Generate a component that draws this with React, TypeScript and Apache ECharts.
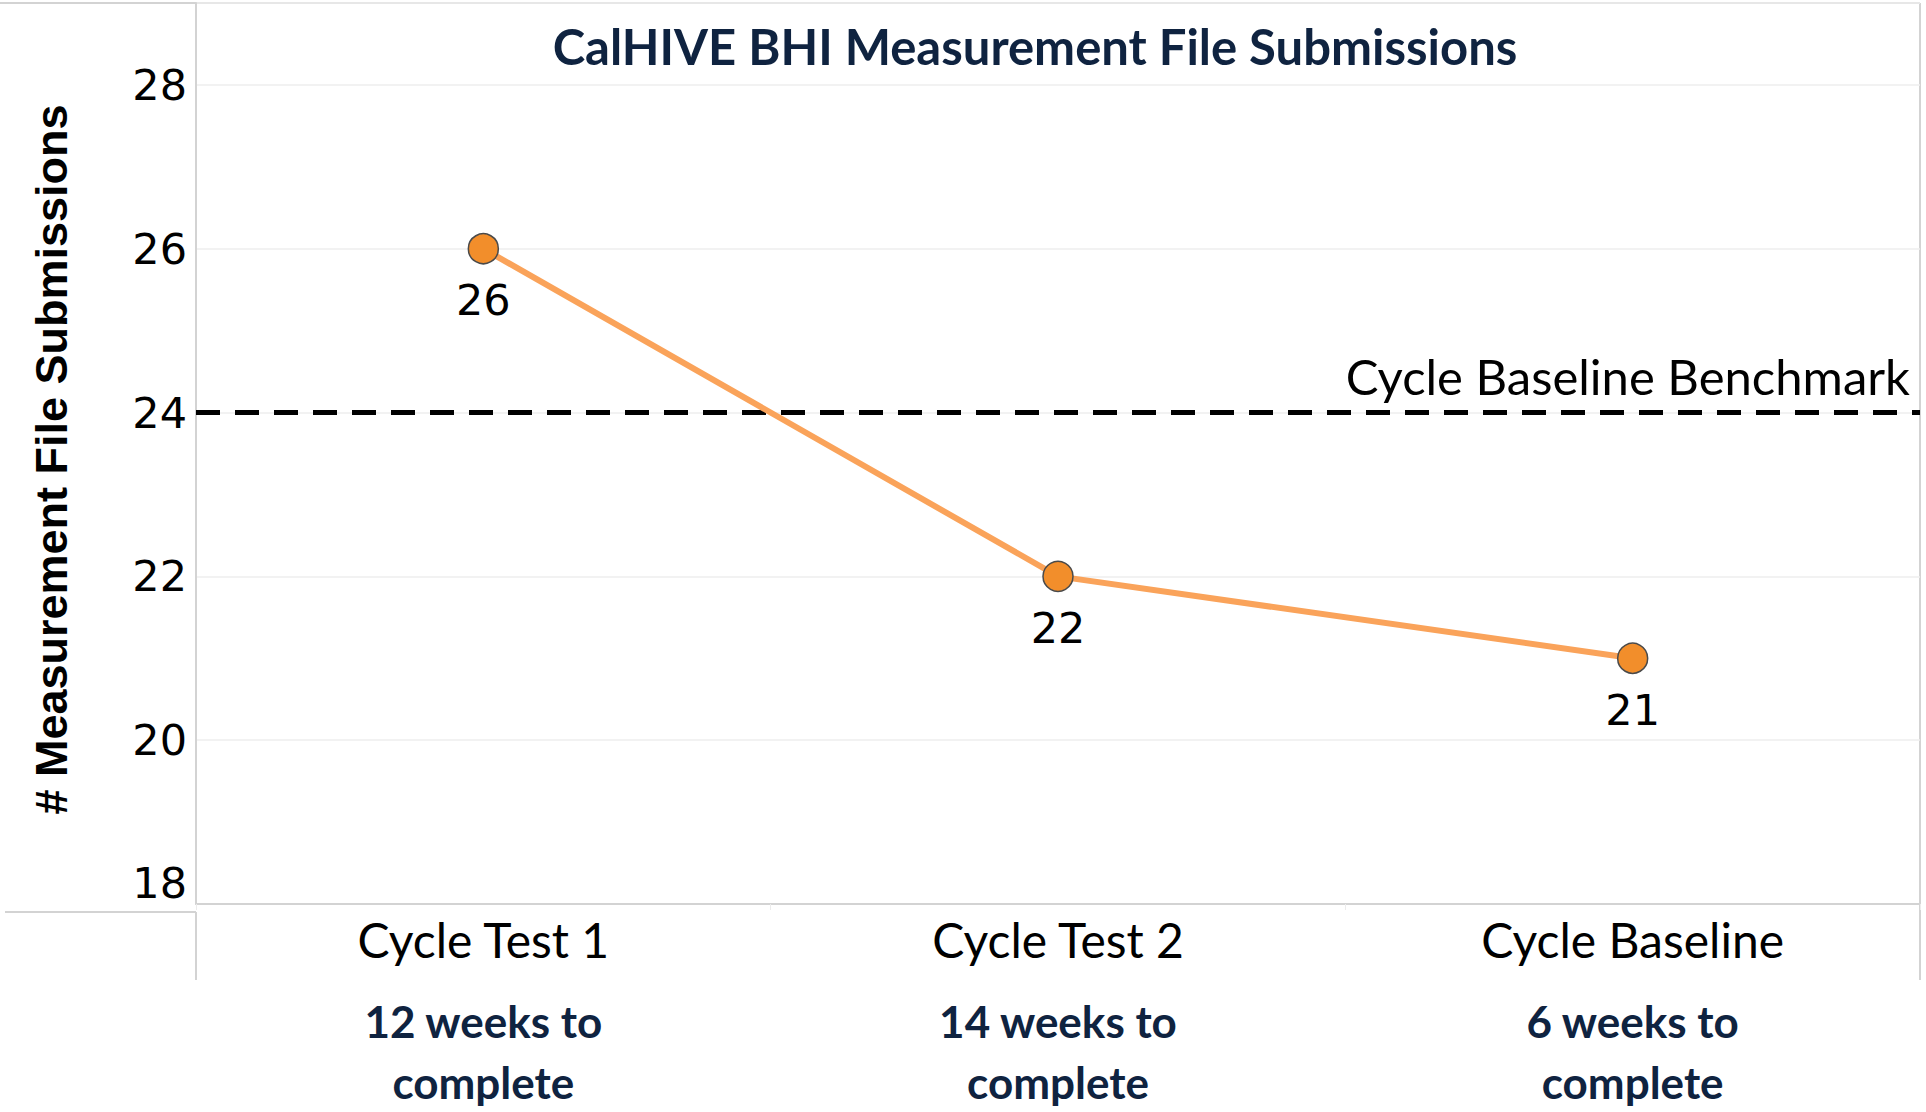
import React, { useEffect, useRef } from "react";
import * as echarts from "echarts";

// ---- data ----
const categories = ["Cycle Test 1", "Cycle Test 2", "Cycle Baseline"];
const submissions = [26, 22, 21];
const completionLabels = ["12 weeks to\ncomplete", "14 weeks to\ncomplete", "6 weeks to\ncomplete"];
const benchmarkValue = 24;
const benchmarkLabel = "Cycle Baseline Benchmark";
const yMin = 18;
const yMax = 29;
const yInterval = 2;
const chartTitle = "CalHIVE BHI Measurement File Submissions";
const yAxisTitle = "# Measurement File Submissions";

export default function App() {
  const ref = useRef<HTMLDivElement>(null);
  useEffect(() => {
    document.body.style.margin = "0";
    const chart = echarts.init(ref.current!, null, { renderer: "svg" });
    const W = 1926;
    const H = 1112;
    const G = { left: 196, top: 3, right: 6, bottom: 200 };
    const xR = W - G.right;
    const yB = H - G.bottom;
    const frame = "#d3d3d3";
    chart.setOption({
      animation: false,
      backgroundColor: "#ffffff",
      title: {
        text: chartTitle,
        left: 1030,
        textAlign: "center",
        top: 16,
        textStyle: { fontFamily: "Lato", fontWeight: "bold", fontSize: 49, color: "#0f2340" },
      },
      grid: { left: G.left, top: G.top, right: G.right, bottom: G.bottom, containLabel: false },
      xAxis: [
        {
          type: "category",
          data: categories,
          boundaryGap: true,
          axisLine: { lineStyle: { color: frame, width: 2 } },
          axisTick: { show: true, length: 6, lineStyle: { color: "#ececec" } },
          axisLabel: {
            interval: 0,
            margin: 11,
            fontFamily: "Lato",
            fontSize: 48,
            color: "#000",
          },
          splitLine: { show: false },
        },
        {
          type: "category",
          data: completionLabels,
          position: "bottom",
          boundaryGap: true,
          axisLine: { show: false },
          axisTick: { show: false },
          axisLabel: {
            interval: 0,
            margin: 86,
            fontFamily: "Lato",
            fontWeight: "bold",
            fontSize: 44,
            lineHeight: 61,
            color: "#0f2340",
          },
        },
      ],
      yAxis: {
        type: "value",
        min: yMin,
        max: yMax,
        interval: yInterval,
        name: yAxisTitle,
        nameLocation: "middle",
        nameRotate: 90,
        nameGap: 122,
        nameTextStyle: {
          fontFamily: "Liberation Sans",
          fontWeight: "bold",
          fontSize: 45,
          color: "#000",
          padding: [0, 12, 0, 0],
        },
        axisLine: { show: true, lineStyle: { color: frame, width: 2 } },
        axisTick: { show: false },
        axisLabel: {
          margin: 9,
          fontFamily: "DejaVu Sans",
          fontSize: 43,
          color: "#000",
          showMaxLabel: false,
          verticalAlignMinLabel: "bottom",
        },
        splitLine: { show: true, lineStyle: { color: "#eeeeee", width: 1.5 } },
      },
      series: [
        {
          type: "line",
          data: submissions,
          xAxisIndex: 0,
          symbol: "circle",
          symbolSize: 30,
          lineStyle: { color: "#FAA35A", width: 6 },
          itemStyle: { color: "#F28E2B", borderColor: "#4a4a4a", borderWidth: 1.5 },
          label: {
            show: true,
            position: "bottom",
            distance: 14,
            fontFamily: "DejaVu Sans",
            fontSize: 43,
            color: "#000",
          },
          z: 3,
          markLine: {
            silent: true,
            symbol: "none",
            z: 2,
            lineStyle: { color: "#000", type: [24, 15], width: 5 },
            label: {
              show: true,
              position: "insideEndTop",
              formatter: benchmarkLabel,
              fontFamily: "Lato",
              fontSize: 49,
              color: "#000",
              distance: [10, 12],
            },
            data: [{ yAxis: benchmarkValue }],
          },
        },
      ],
      graphic: [
        { type: "line", shape: { x1: 0, y1: G.top, x2: xR, y2: G.top }, style: { stroke: frame, lineWidth: 2 } },
        { type: "line", shape: { x1: 5, y1: yB, x2: G.left, y2: yB }, style: { stroke: frame, lineWidth: 2 } },
        { type: "line", shape: { x1: G.left, y1: yB, x2: G.left, y2: 980 }, style: { stroke: frame, lineWidth: 2 } },
        { type: "line", shape: { x1: xR, y1: G.top, x2: xR, y2: 980 }, style: { stroke: frame, lineWidth: 2 } },
      ],
    });
    return () => chart.dispose();
  }, []);
  return <div ref={ref} style={{ width: 1926, height: 1112 }} />;
}
